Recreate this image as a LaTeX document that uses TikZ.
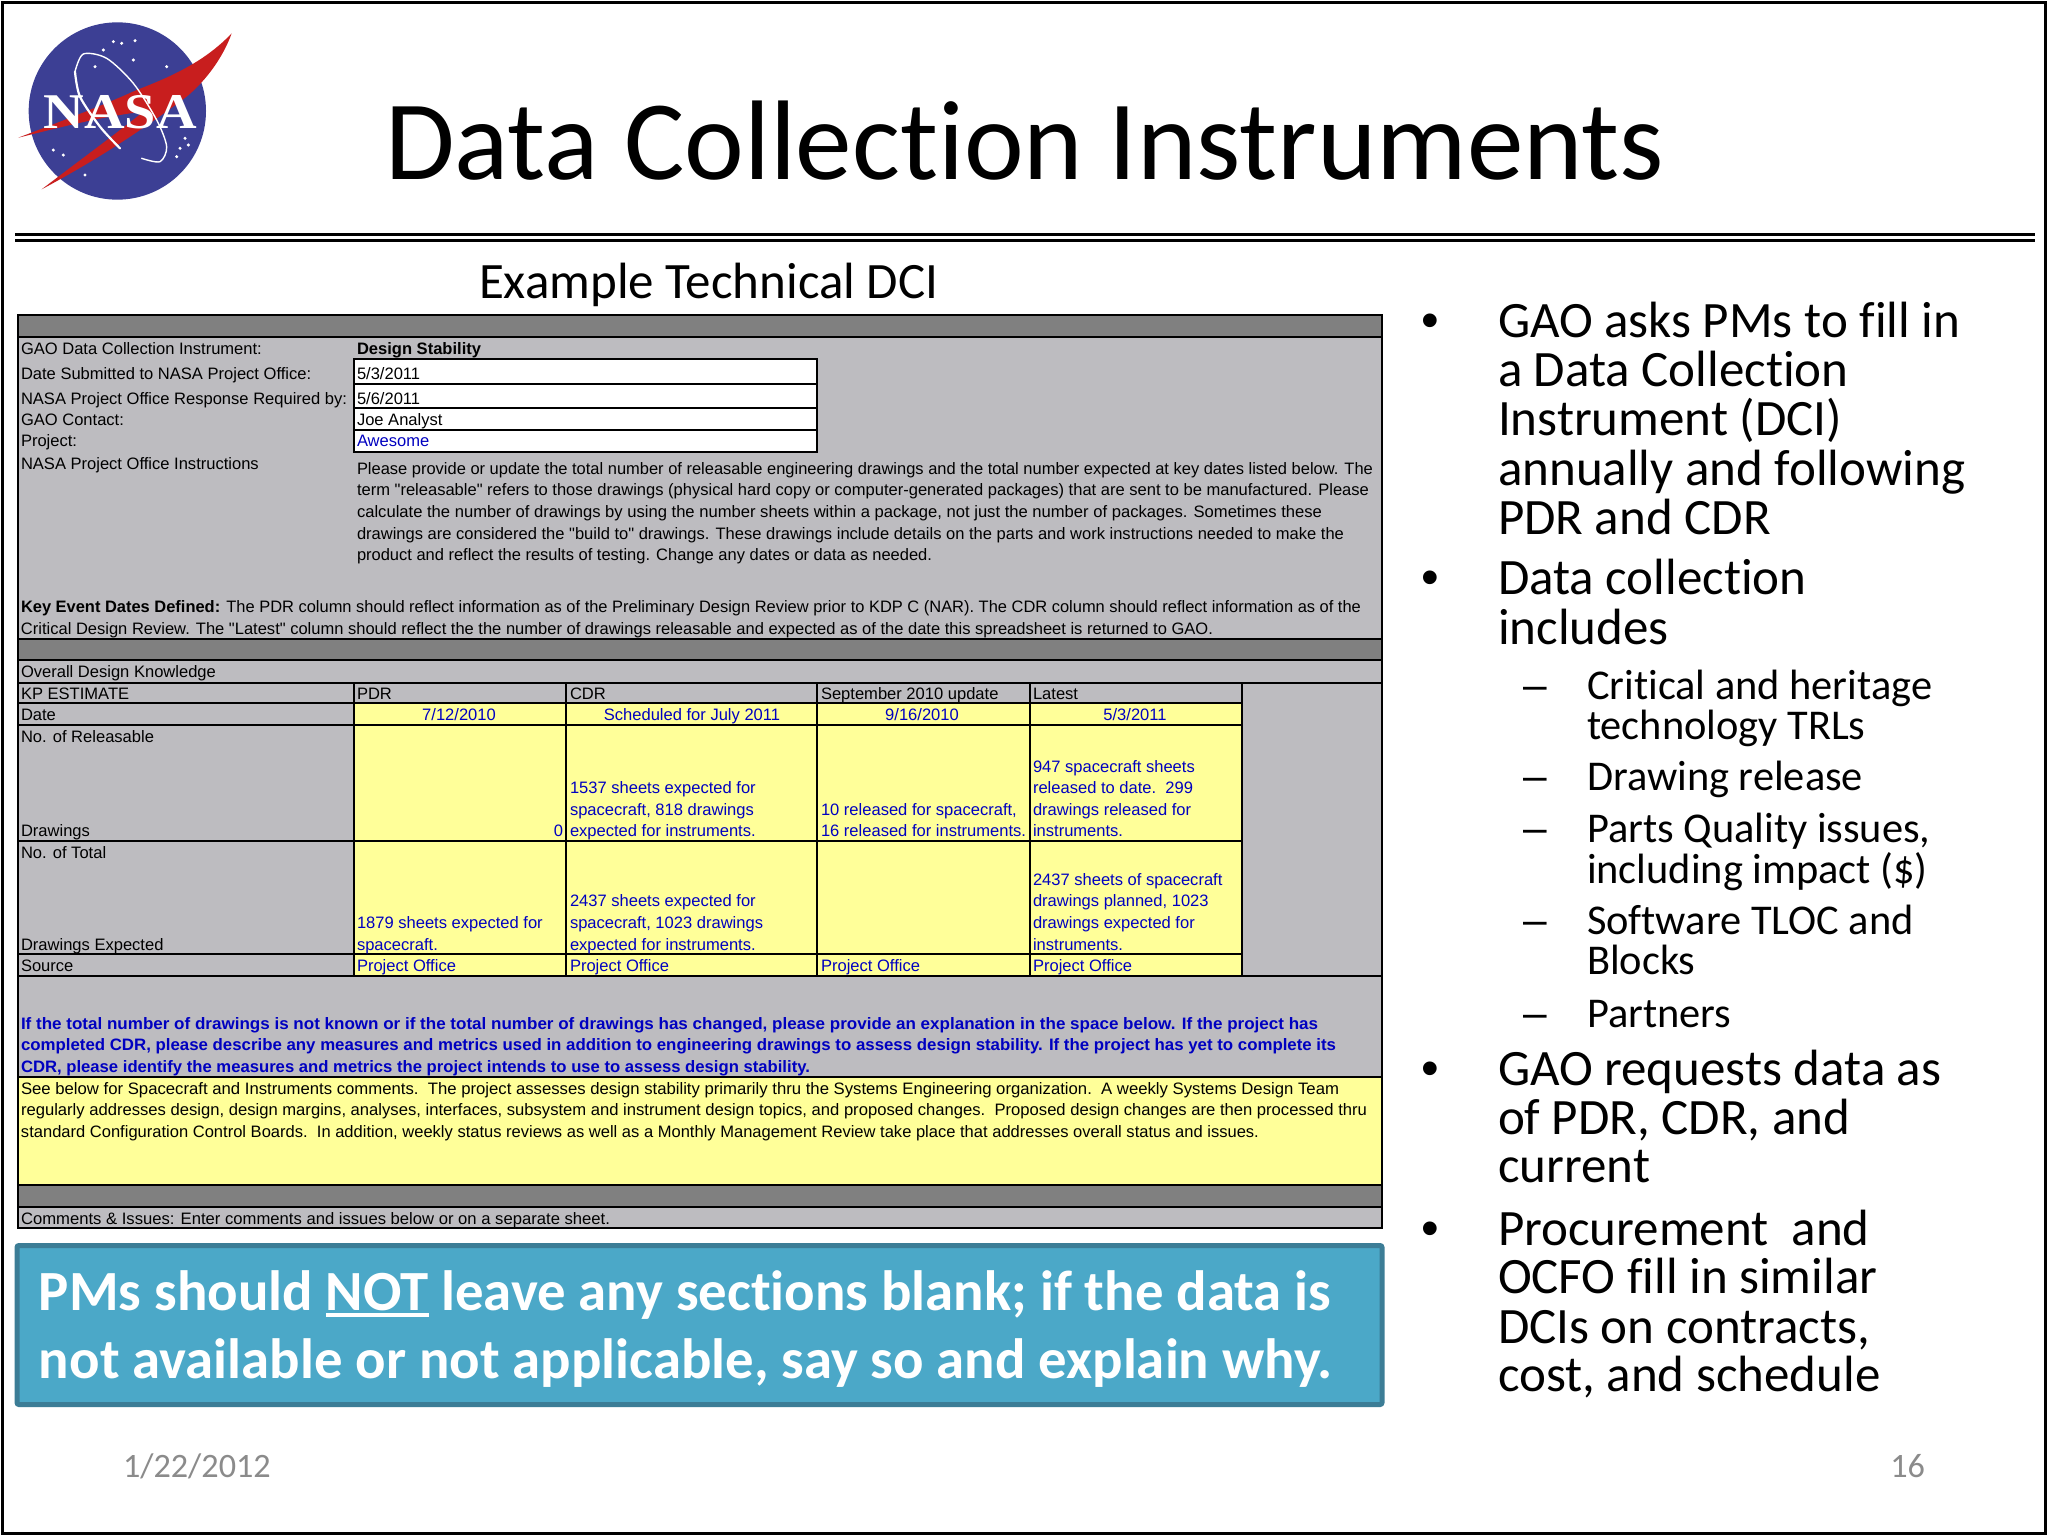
\documentclass[tikz,border=0pt]{standalone}
\usepackage{fontspec}
\usepackage{graphicx}
\setmainfont[Ligatures=NoCommon]{Carlito}
\newfontfamily\arial[Ligatures=NoCommon]{Liberation Sans}
\newfontfamily\nasaf{Liberation Serif}
\definecolor{cellgray}{HTML}{BDBCC0}
\definecolor{bandgray}{HTML}{808080}
\definecolor{cellyellow}{HTML}{FFFF99}
\definecolor{cellblue}{HTML}{0000C0}
\definecolor{calloutfill}{HTML}{4BA8C8}
\definecolor{calloutline}{HTML}{3C7D96}
\definecolor{footgray}{HTML}{8B8B8B}
\definecolor{nasablue}{HTML}{3C3F94}
\definecolor{nasared}{HTML}{C81E1E}
\newcounter{tn}
\tikzset{
  x=0.5pt,y=-0.5pt,
  lbl/.style={inner sep=0pt,outer sep=0pt,anchor=base west},
  tbl/.style={lbl,font=\arial\fontsize{8.27}{10}\selectfont},
  blu/.style={tbl,text=cellblue},
  ctr/.style={anchor=base,inner sep=0pt,font=\arial\fontsize{8.27}{10}\selectfont,text=cellblue},
  big/.style={lbl,font=\fontsize{25.5}{30}\selectfont},
  sub/.style={lbl,font=\fontsize{21.2}{25}\selectfont},
  grid/.style={draw=black,line width=1pt},
}
% text node, free width
\newcommand{\TX}[4][tbl]{\stepcounter{tn}\node[#1] (t\arabic{tn}) at (#2,#3) {#4};}
% text node fitted to a width given in pixels
\newcommand{\TF}[5][tbl]{\stepcounter{tn}\node[#1] (t\arabic{tn}) at (#2,#3) {\resizebox{\dimexpr #4pt/2\relax}{\height}{#5}};}
% thick underline
\newcommand{\thickul}[1]{\setbox0\hbox{#1}\rlap{\rule[-3.6pt]{\wd0}{2.3pt}}\box0{}}
\begin{document}
\begin{tikzpicture}
\useasboundingbox (0,0) rectangle (2048,1536);
\fill[white] (0,0) rectangle (2048,1536);
\draw[black,line width=1.5pt] (2.5,2.5) rectangle (2045,1533);
% rules under the title
\draw[black,line width=1.5pt] (15,234.5) -- (2035,234.5);
\draw[black,line width=1.2pt] (15,240.5) -- (2035,240.5);

% logo
\begin{scope}[x=0.16667pt,y=-0.16667pt]
\fill[nasablue] (352,333) circle (266);
\fill[nasared] (695,100) .. controls (610,190) and (500,235) .. (410,270)
  .. controls (300,320) and (180,365) .. (55,413)
  .. controls (170,385) and (300,350) .. (430,335)
  .. controls (350,400) and (240,480) .. (125,568)
  .. controls (270,490) and (400,410) .. (560,290)
  .. controls (620,240) and (670,170) .. (695,100) -- cycle;
\stepcounter{tn}
\node[inner sep=0pt,anchor=base west,text=white,font=\nasaf\bfseries\fontsize{25}{30}\selectfont] (t\arabic{tn}) at (130,385) {\resizebox{76.5pt}{\height}{NASA}};
\draw[white,line width=0.7pt,line cap=round] plot[smooth] coordinates {(225,215) (250,162) (320,175) (400,250) (470,360) (500,440) (480,485) (425,475)};
\draw[white,line width=1.1pt,line cap=round] plot[smooth] coordinates {(225,215) (240,290) (300,380) (360,445)};
\foreach \sx/\sy in {405/122,340/125,365/130,285/200,400/180,555/415,530/470,565/435,255/525,190/465,160/450,500/200,310/150,540/445}
  \fill[white] (\sx,\sy) circle (5);
\end{scope}

% titles
\TX[lbl,font=\fontsize{56.6}{66}\selectfont]{385}{179}{Data Collection Instruments}
\TX[lbl,font=\fontsize{25.5}{30}\selectfont]{479}{298}{Example Technical DCI}

% table background
\fill[cellgray] (18,315) rectangle (1382,1228);
\fill[bandgray] (18,315) rectangle (1382,337);
\fill[bandgray] (18,638.7) rectangle (1382,660);
\fill[bandgray] (18,1185) rectangle (1382,1206.7);
\fill[white] (354,358.7) rectangle (817,452);
\fill[cellyellow] (354,703) rectangle (1242,975.7);
\fill[cellyellow] (18,1076.7) rectangle (1382,1185);
% table lines
\draw[grid] (18,315) rectangle (1382,1228);
\foreach \ly in {337,638.7,660,682.5,975.7,1076.7,1185,1206.7}
  \draw[grid] (18,\ly) -- (1382,\ly);
\foreach \ly in {703,725,841,954}
  \draw[grid] (18,\ly) -- (1242,\ly);
\foreach \lx in {354,566,817,1029.5,1242}
  \draw[grid] (\lx,682.5) -- (\lx,975.7);
\draw[grid] (354,358.7) rectangle (817,452);
\foreach \ly in {384,408,430}
  \draw[grid] (354,\ly) -- (817,\ly);

% upper block
\TX{21}{354}{GAO Data Collection Instrument:}
\TX{21}{379}{Date Submitted to NASA Project Office:}
\TX{21}{404}{NASA Project Office Response Required by:}
\TX{21}{425.7}{GAO Contact:}
\TX{21}{446.7}{Project:}
\TX{21}{469}{NASA Project Office Instructions}
\TX[tbl,font=\arial\bfseries\fontsize{8.27}{10}\selectfont]{357}{354}{Design Stability}
\TX{357}{379}{5/3/2011}
\TX{357}{404}{5/6/2011}
\TX{357}{425.7}{Joe Analyst}
\TX[blu]{357}{446.7}{Awesome}
\TF{357}{474}{1016}{Please provide or update the total number of releasable engineering drawings and the total number expected at key dates listed below. The}
\TF{357}{495.7}{1012}{term "releasable" refers to those drawings (physical hard copy or computer-generated packages) that are sent to be manufactured. Please}
\TF{357}{517}{965}{calculate the number of drawings by using the number sheets within a package, not just the number of packages. Sometimes these}
\TF{357}{539}{987}{drawings are considered the "build to" drawings. These drawings include details on the parts and work instructions needed to make the}
\TF{357}{560.7}{575}{product and reflect the results of testing. Change any dates or data as needed.}
\TF{21}{612.7}{1340}{\textbf{Key Event Dates Defined:} The PDR column should reflect information as of the Preliminary Design Review prior to KDP C (NAR). The CDR column should reflect information as of the}
\TF{21}{634}{1192}{Critical Design Review. The "Latest" column should reflect the the number of drawings releasable and expected as of the date this spreadsheet is returned to GAO.}
\TX{21}{677}{Overall Design Knowledge}

% grid text
\TX{21}{699}{KP ESTIMATE}
\TX{357}{699}{PDR}
\TX{570}{699}{CDR}
\TX{821}{699}{September 2010 update}
\TX{1033}{699}{Latest}
\TX{21}{720.7}{Date}
\TX[ctr]{459}{720.7}{7/12/2010}
\TX[ctr]{692}{720.7}{Scheduled for July 2011}
\TX[ctr]{922}{720.7}{9/16/2010}
\TX[ctr]{1135}{720.7}{5/3/2011}
\TX{21}{742.7}{No. of Releasable}
\TX{21}{836.7}{Drawings}
\stepcounter{tn}
\node[tbl,anchor=base east,text=cellblue] (t\arabic{tn}) at (563,836.7) {0};
\TX[blu]{570}{793}{1537 sheets expected for}
\TX[blu]{570}{815}{spacecraft, 818 drawings}
\TX[blu]{570}{836.7}{expected for instruments.}
\TX[blu]{821}{815}{10 released for spacecraft,}
\TX[blu]{821}{836.7}{16 released for instruments.}
\TX[blu]{1033}{772}{947 spacecraft sheets}
\TX[blu]{1033}{793}{released to date.\ \ 299}
\TX[blu]{1033}{815}{drawings released for}
\TX[blu]{1033}{836.7}{instruments.}
\TX{21}{858}{No. of Total}
\TX{21}{950}{Drawings Expected}
\TX[blu]{357}{928.7}{1879 sheets expected for}
\TX[blu]{357}{950}{spacecraft.}
\TX[blu]{570}{906.7}{2437 sheets expected for}
\TX[blu]{570}{928.7}{spacecraft, 1023 drawings}
\TX[blu]{570}{950}{expected for instruments.}
\TX[blu]{1033}{885}{2437 sheets of spacecraft}
\TX[blu]{1033}{906.7}{drawings planned, 1023}
\TX[blu]{1033}{928.7}{drawings expected for}
\TX[blu]{1033}{950}{instruments.}
\TX{21}{971.7}{Source}
\TX[blu]{357}{971.7}{Project Office}
\TX[blu]{570}{971.7}{Project Office}
\TX[blu]{821}{971.7}{Project Office}
\TX[blu]{1033}{971.7}{Project Office}

% lower block
\TF[blu]{21}{1029}{1297}{\bfseries If the total number of drawings is not known or if the total number of drawings has changed, please provide an explanation in the space below. If the project has}
\TF[blu]{21}{1050.7}{1315}{\bfseries completed CDR, please describe any measures and metrics used in addition to engineering drawings to assess design stability. If the project has yet to complete its}
\TF[blu]{21}{1072}{789}{\bfseries CDR, please identify the measures and metrics the project intends to use to assess design stability.}
\TF{21}{1094}{1318}{See below for Spacecraft and Instruments comments.\ \ The project assesses design stability primarily thru the Systems Engineering organization.\ \ A weekly Systems Design Team}
\TF{21}{1115.7}{1346}{regularly addresses design, design margins, analyses, interfaces, subsystem and instrument design topics, and proposed changes.\ \ Proposed design changes are then processed thru}
\TF{21}{1137}{1238}{standard Configuration Control Boards.\ \ In addition, weekly status reviews as well as a Monthly Management Review take place that addresses overall status and issues.}
\TF{21}{1224}{589}{Comments \& Issues: Enter comments and issues below or on a separate sheet.}

% callout
\draw[calloutline,fill=calloutfill,line width=2.5pt,rounded corners=1pt] (17,1245.5) rectangle (1382,1404.5);
\TF[lbl,text=white,font=\bfseries\fontsize{28.4}{32}\selectfont]{39}{1310}{1292}{PMs should \thickul{NOT} leave any sections blank; if the data is}
\TF[lbl,text=white,font=\bfseries\fontsize{28.4}{32}\selectfont]{39}{1378}{1293}{not available or not applicable, say so and explain why.}

% bullets
\foreach \by in {337,594,1085,1245}
  {\stepcounter{tn}\node[lbl,font=\arial\fontsize{25.2}{30}\selectfont] (t\arabic{tn}) at (1421,\by) {•};}
\TX[big]{1498}{337}{GAO asks PMs to fill in}
\TX[big]{1498}{386}{a Data Collection}
\TX[big]{1498}{435}{Instrument (DCI)}
\TX[big]{1498}{485}{annually and following}
\TX[big]{1498}{534}{PDR and CDR}
\TX[big]{1498}{594}{Data collection}
\TX[big]{1498}{644}{includes}
\foreach \dy in {699,790,842,934,1027}
  {\stepcounter{tn}\node[lbl,font=\arial\fontsize{21.2}{25}\selectfont] (t\arabic{tn}) at (1523,\dy) {–};}
\TX[sub]{1587}{699}{Critical and heritage}
\TX[sub]{1587}{739}{technology TRLs}
\TX[sub]{1587}{790}{Drawing release}
\TX[sub]{1587}{842}{Parts Quality issues,}
\TX[sub]{1587}{883}{including impact (\$)}
\TX[sub]{1587}{934}{Software TLOC and}
\TX[sub]{1587}{974}{Blocks}
\TX[sub]{1587}{1027}{Partners}
\TX[big]{1498}{1085}{GAO requests data as}
\TX[big]{1498}{1134}{of PDR, CDR, and}
\TX[big]{1498}{1182}{current}
\TX[big]{1498}{1245}{Procurement\ \ and}
\TX[big]{1498}{1293}{OCFO fill in similar}
\TX[big]{1498}{1343}{DCIs on contracts,}
\TX[big]{1498}{1391}{cost, and schedule}

% footer
\TX[lbl,text=footgray,font=\fontsize{17.1}{20}\selectfont]{123}{1477}{1/22/2012}
\stepcounter{tn}
\node[lbl,anchor=base east,text=footgray,font=\fontsize{17.1}{20}\selectfont] (t\arabic{tn}) at (1925,1477) {16};
\end{tikzpicture}
\end{document}
